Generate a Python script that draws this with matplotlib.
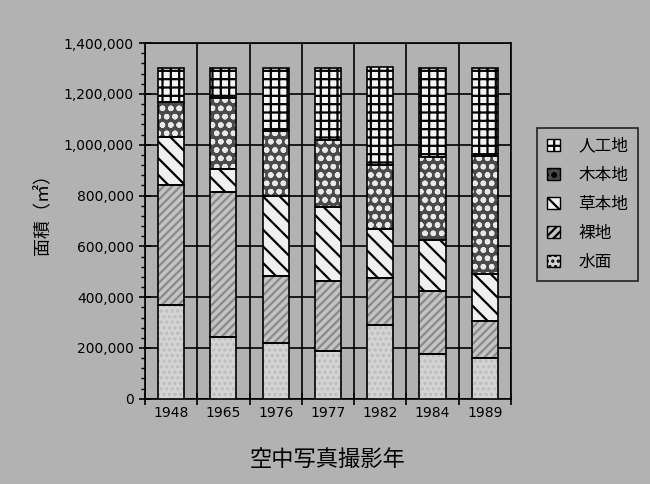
import matplotlib.pyplot as plt
from matplotlib.patches import Patch
from matplotlib.ticker import MultipleLocator, FuncFormatter

plt.rcParams['font.family'] = ['DejaVu Sans', 'Noto Sans CJK JP']
plt.rcParams['hatch.linewidth'] = 1.6

# 空中写真撮影年
years = ['1948', '1965', '1976', '1977', '1982', '1984', '1989']

# land use area (m2), bottom to top of each stacked bar
suimen = [370000, 245000, 220000, 190000, 290000, 175000, 160000]     # 水面
rachi = [470000, 570000, 265000, 275000, 185000, 250000, 145000]      # 裸地
soho = [190000, 90000, 315000, 290000, 195000, 200000, 185000]        # 草本地
mokuhon = [140000, 280000, 255000, 265000, 250000, 325000, 465000]    # 木本地
jinko = [130000, 115000, 245000, 280000, 385000, 350000, 345000]      # 人工地

series = [suimen, rachi, soho, mokuhon, jinko]
labels = ['水面', '裸地', '草本地', '木本地', '人工地']
faces = ['#d4d4d4', '#c4c4c4', '#f0f0f0', '#4a4a4a', '#f4f4f4']
hatch_cols = ['#bdbdbd', '#8a8a8a', 'black', '#e8e8e8', 'black']
hatches = ['...', '////', '\\\\', 'oo', '++']

bg = '#b2b2b2'
fig = plt.figure(figsize=(6.5, 4.84), dpi=100, facecolor=bg)
ax = fig.add_axes([0.223, 0.176, 0.563, 0.735], facecolor=bg)

x = list(range(len(years)))
bottom = [0] * len(years)
handles = []
for vals, lab, fc, hc, h in zip(series, labels, faces, hatch_cols, hatches):
    ax.bar(x, vals, 0.5, bottom=bottom, color=fc, edgecolor=hc, hatch=h,
           linewidth=0, zorder=3)
    ax.bar(x, vals, 0.5, bottom=bottom, fill=False, edgecolor='black',
           linewidth=1.2, zorder=4)
    handles.append(Patch(facecolor=fc, edgecolor='black', hatch=h, label=lab))
    bottom = [b + v for b, v in zip(bottom, vals)]

ax.set_xlim(-0.5, len(years) - 0.5)
ax.set_ylim(0, 1400000)

# category boundaries as major x ticks, labels at centres
ax.set_xticks([i - 0.5 for i in range(len(years) + 1)])
ax.set_xticklabels([])
ax.set_xticks(x, minor=True)
ax.set_xticklabels(years, minor=True, fontsize=10)
ax.tick_params(axis='x', which='major', direction='inout', length=9, width=1.2)
ax.tick_params(axis='x', which='minor', length=0, pad=5)

ax.yaxis.set_major_locator(MultipleLocator(200000))
ax.yaxis.set_minor_locator(MultipleLocator(40000))
ax.yaxis.set_major_formatter(FuncFormatter(lambda v, p: f'{int(v):,}'))
ax.tick_params(axis='y', which='major', direction='inout', length=9, width=1.2,
               labelsize=10)
ax.tick_params(axis='y', which='minor', direction='out', length=3, width=1)

ax.grid(True, which='major', color='black', linewidth=1.2)
ax.set_axisbelow(True)
for s in ax.spines.values():
    s.set_linewidth(1.2)

ax.set_xlabel('空中写真撮影年', fontsize=16, family=['Noto Sans CJK JP'],
              labelpad=20)
ax.set_ylabel('面積（㎡）', fontsize=13, family=['Noto Sans CJK JP'])
ax.yaxis.set_label_coords(-0.255, 0.53)

leg = fig.legend(handles=handles[::-1], loc='upper left',
                 bbox_to_anchor=(0.826, 0.736), borderaxespad=0,
                 frameon=True, fancybox=False,
                 edgecolor='black', facecolor=bg, handlelength=0.8,
                 handleheight=0.8, handletextpad=1.1, labelspacing=0.72,
                 borderpad=0.6,
                 prop={'family': 'Noto Sans CJK JP', 'size': 12})
leg.get_frame().set_linewidth(1.2)

fig.savefig('out.png', dpi=100, facecolor=bg)
